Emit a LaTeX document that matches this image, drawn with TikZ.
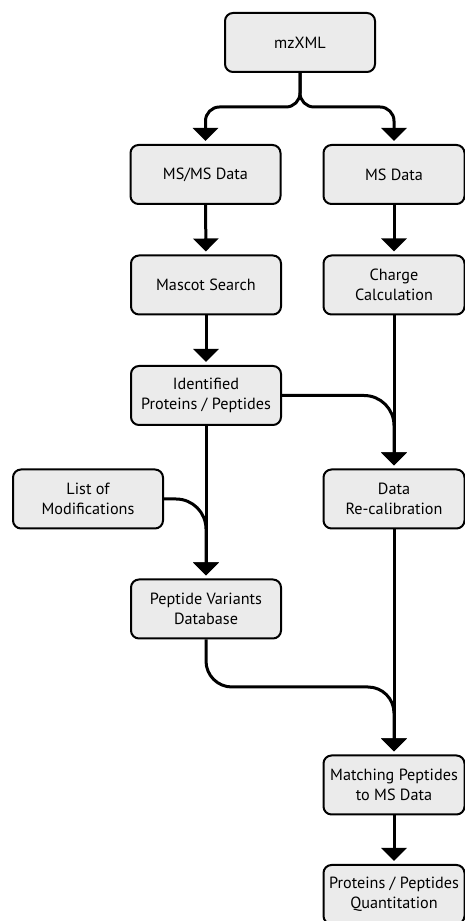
\documentclass[tikz,border=0pt]{standalone}
\usepackage{fontspec}
\setmainfont{PT Sans}
\usetikzlibrary{positioning}
\usetikzlibrary{arrows.meta}
\definecolor{boxgray}{HTML}{EBEBEB}
\tikzset{
    mybox/.style = {rectangle, rounded corners=8pt, line width=2pt, draw=black, fill=boxgray, align=center, minimum width=150pt, minimum height=59pt, inner sep=0pt, font=\fontsize{16.2}{20}\selectfont, text=black},
    myboxr/.style = {mybox, minimum width=141pt},
    edgea/.style = {-{Triangle[width=25pt,length=13pt]}, line width=3pt, black, shorten >=3pt},
    edgec/.style = {edgea, rounded corners=#1}
}

\begin{document}
\begin{tikzpicture}[x=1pt,y=1pt]
  \useasboundingbox[fill=white] (0,0) rectangle (465,921);
  \node[mybox] (mzxml) at (300,878.5) {mzXML};
  \node[mybox] (msms) at (205.5,746.5) {MS/MS Data};
  \node[myboxr] (ms) at (394,746.5) {MS Data};
  \node[mybox] (mascot) at (206,636) {Mascot Search};
  \node[myboxr] (charge) at (394,636) {Charge\\Calculation};
  \node[mybox] (ident) at (206,525.5) {Identified\\Proteins / Peptides};
  \node[mybox] (listmod) at (88,422) {List of\\Modifications};
  \node[myboxr] (recal) at (394,422) {Data\\Re-calibration};
  \node[mybox] (pvdb) at (206,312) {Peptide Variants\\Database};
  \node[myboxr] (match) at (394,136) {Matching Peptides\\to MS Data};
  \node[myboxr] (quant) at (394,26.5) {Proteins / Peptides\\Quantitation};
  \coordinate (split) at (300,814);
  \coordinate (bend) at (206,234);
  % split
  \draw[edgec=14pt] (mzxml.south) -- (split) -| (msms.north);
  \draw[edgec=14pt] (mzxml.south) -- (split) -| (ms.north);
  \draw[edgea] (msms) -- (mascot);
  \draw[edgea] (ms) -- (charge);
  \draw[edgea] (mascot) -- (ident);
  \draw[edgea] (charge) -- (recal);
  \draw[edgec=30pt] (ident.east) -| (recal.north);
  \draw[edgea] (ident) -- (pvdb);
  \draw[edgec=30pt] (listmod.east) -| (pvdb.north);
  % join
  \draw[edgea] (recal) -- (match);
  \draw[edgec=26pt] (pvdb.south) -- (bend) -| (match.north);
  \draw[edgea] (match) -- (quant);
\end{tikzpicture}
\end{document}
